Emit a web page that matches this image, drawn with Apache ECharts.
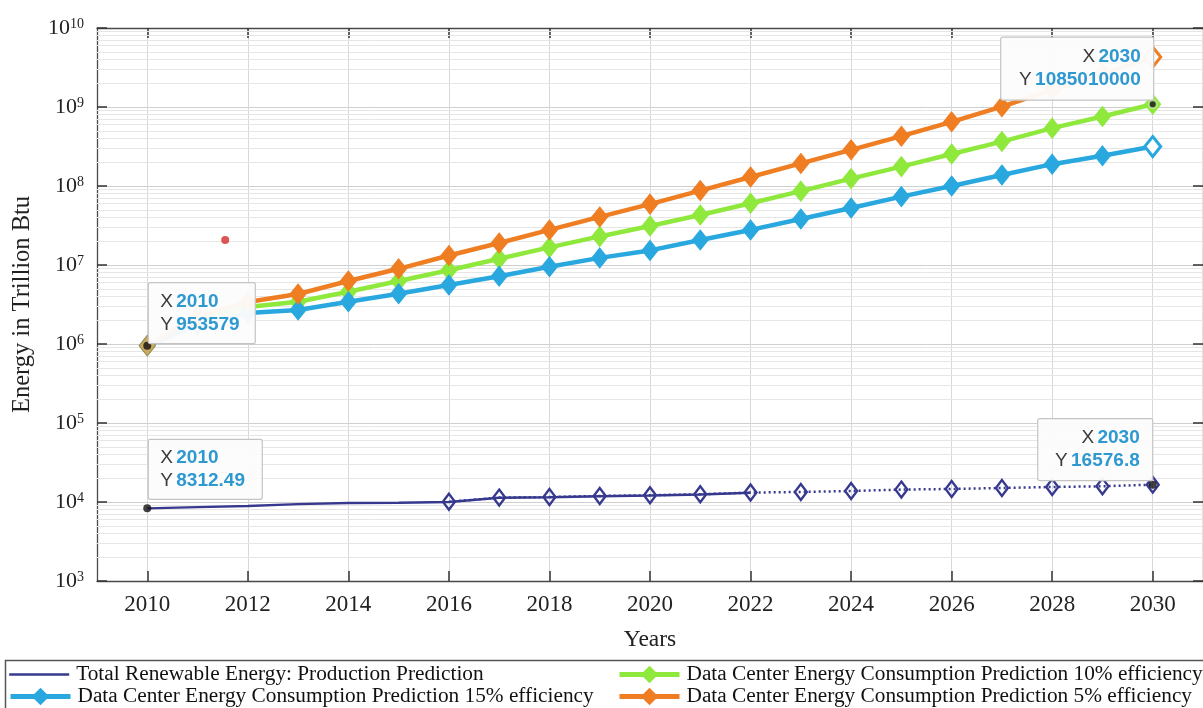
<!DOCTYPE html>
<html><head><meta charset="utf-8">
<script src="https://cdn.jsdelivr.net/npm/echarts@6/dist/echarts.min.js"></script>
<style>html,body{margin:0;padding:0;background:#fff}#c{width:1203px;height:708px}</style>
</head><body><div id="c"></div>
<script>
// ---------- DATA ----------
const years = [2010,2011,2012,2013,2014,2015,2016,2017,2018,2019,2020,2021,2022,2023,2024,2025,2026,2027,2028,2029,2030];
const dc15 = [953579,1.74e6,2.46e6,2.69e6,3.43e6,4.33e6,5.58e6,7.19e6,9.51e6,1.23e7,1.53e7,2.07e7,2.78e7,3.83e7,5.27e7,7.34e7,1.00e8,1.38e8,1.89e8,2.41e8,3.16e8];
const dc10 = [953579,2.01e6,2.94e6,3.43e6,4.59e6,6.27e6,8.57e6,1.20e7,1.67e7,2.30e7,3.12e7,4.30e7,6.05e7,8.61e7,1.24e8,1.76e8,2.54e8,3.65e8,5.40e8,7.58e8,1085010000];
const dc5  = [953579,2.26e6,3.40e6,4.29e6,6.27e6,8.95e6,1.32e7,1.90e7,2.78e7,4.06e7,5.90e7,8.74e7,1.30e8,1.93e8,2.87e8,4.27e8,6.49e8,1.01e9,1.65e9,2.64e9,4.29e9];
const renewHistYears = [2010,2011,2012,2013,2014,2015,2016,2017,2018,2019,2020,2021,2022];
const renewHist = [8312.49,8600,8900,9400,9700,9800,10000,11300,11500,11850,12100,12450,13100];
const renewPredYears = [2016,2017,2018,2019,2020,2021,2022,2023,2024,2025,2026,2027,2028,2029,2030];
const renewPred = [10050,11370,11560,11920,12170,12530,13160,13400,13780,14360,14620,15040,15490,15810,16576.8];
const outlier = [[2011.55, 2.07e7]];
const xTickYears = [2010,2012,2014,2016,2018,2020,2022,2024,2026,2028,2030];
const yDecades = [1e3,1e4,1e5,1e6,1e7,1e8,1e9,1e10];
const yMinorMult = [2,3,4,5,6,7,8,9];
const seriesNames = {
  renew: 'Total Renewable Energy: Production Prediction',
  dc10: 'Data Center Energy Consumption Prediction 10% efficiency',
  dc15: 'Data Center Energy Consumption Prediction 15% efficiency',
  dc5: 'Data Center Energy Consumption Prediction 5% efficiency'
};

// ---------- STYLE ----------
const SERIF = "'Liberation Serif','Times New Roman',serif";
const SANS = "'Liberation Sans',Arial,sans-serif";
const C_REN = '#37398F', C_G = '#8FE83C', C_B = '#29A8DF', C_O = '#EF7D22';

const zip = (xs, ys) => xs.map((x, i) => [x, ys[i]]);
const yMinor = [];
yDecades.slice(0, -1).forEach(d => yMinorMult.forEach(m => yMinor.push(d * m)));

function dcData(vals, color, firstColor) {
  return zip(years, vals).map((p, i) => {
    if (i === vals.length - 1 && color)
      return {value: p, itemStyle: {color: '#ffffff', borderColor: color, borderWidth: 3}};
    if (i === 0 && firstColor)
      return {value: p, itemStyle: {color: firstColor, borderColor: '#B08C48', borderWidth: 1}};
    return p;
  });
}

const chart = echarts.init(document.getElementById('c'));
const grid = {left: 97, top: 28, width: 1115, height: 553};
const axisLineStyle = {color: '#4a4a4a', width: 1.3};
const legendText = {fontFamily: SERIF, fontSize: 21.3, color: '#111', lineHeight: 18, padding: [0, 0, 0, 2]};
function legendAt(item, left, top) {
  return {data: [item], left: left, top: top, orient: 'horizontal', itemGap: 0,
    itemWidth: 60, itemHeight: 22, padding: 0, selectedMode: false, textStyle: legendText};
}

const option = {
  backgroundColor: '#ffffff',
  animation: false,
  grid: grid,
  xAxis: [
    {type: 'value', min: 2009, max: 2031, interval: 0.5, position: 'bottom',
     axisLine: {show: true, onZero: false, lineStyle: axisLineStyle},
     axisTick: {show: true, inside: true, length: 10, customValues: xTickYears, lineStyle: {color: '#333', width: 1.5}},
     axisLabel: {show: true, customValues: xTickYears, formatter: v => String(v), margin: 12, fontFamily: SERIF, fontSize: 23, color: '#222'},
     splitLine: {show: true, lineStyle: {color: '#d8d8d8', width: 1}},
     name: 'Years', nameLocation: 'middle', nameGap: 47,
     nameTextStyle: {fontFamily: SERIF, fontSize: 23.5, color: '#222'}},
    {type: 'value', min: 2009, max: 2031, interval: 0.5, position: 'top',
     axisLine: {show: true, onZero: false, lineStyle: axisLineStyle},
     axisTick: {show: true, inside: true, length: 10, customValues: xTickYears, lineStyle: {color: '#333', width: 1.5}},
     axisLabel: {show: false}, splitLine: {show: false}}
  ],
  yAxis: [
    {type: 'log', logBase: 10, min: 1e3, max: 1e10, splitNumber: 7, position: 'left',
     axisLine: {show: true, lineStyle: axisLineStyle},
     axisTick: {show: true, inside: true, length: 10, lineStyle: {color: '#333', width: 1.5}},
     axisLabel: {margin: 13, formatter: v => '{b|10}{s|' + Math.round(Math.log10(v)) + '}',
       rich: {b: {fontFamily: SERIF, fontSize: 22, color: '#222'},
              s: {fontFamily: SERIF, fontSize: 14, color: '#222', verticalAlign: 'top', padding: [0, 0, 8, 0]}}},
     splitLine: {show: true, lineStyle: {color: '#cfcfcf', width: 1}},
     name: 'Energy in Trillion Btu', nameLocation: 'middle', nameGap: 62, nameRotate: 90,
     nameTextStyle: {fontFamily: SERIF, fontSize: 24.5, color: '#222'}},
    {type: 'log', logBase: 10, min: 1e3, max: 1e10, splitNumber: 7, position: 'left',
     axisLine: {show: false},
     axisTick: {show: true, inside: true, length: 5, customValues: yMinor, lineStyle: {color: '#444', width: 1}},
     axisLabel: {show: false}, splitLine: {show: false}},
    {type: 'log', logBase: 10, min: 1e3, max: 1e10, splitNumber: 7, position: 'right',
     axisLine: {show: true, lineStyle: axisLineStyle},
     axisTick: {show: true, inside: true, length: 10, lineStyle: {color: '#333', width: 1.5}},
     axisLabel: {show: false}, splitLine: {show: false}}
  ],
  legend: [
    legendAt({name: seriesNames.renew, itemStyle: {opacity: 0}, lineStyle: {width: 2.4}}, 8, 664),
    legendAt({name: seriesNames.dc15, lineStyle: {width: 5}}, 8, 686),
    legendAt({name: seriesNames.dc10, lineStyle: {width: 5}}, 617, 664),
    legendAt({name: seriesNames.dc5, lineStyle: {width: 5}}, 617, 686)
  ],
  graphic: [
    {type: 'rect', left: 3, top: 658, shape: {width: 1230, height: 70},
     style: {fill: 'none', stroke: '#555', lineWidth: 1.5}, z: 100}
  ],
  series: [
    {type: 'line', name: '_minorgrid', data: [], silent: true, z: 1,
     markLine: {silent: true, symbol: 'none', z: 1, animation: false,
       label: {show: false}, lineStyle: {color: '#e6e6e6', width: 1, type: 'solid'},
       emphasis: {disabled: true},
       data: yMinor.map(v => ({yAxis: v}))}},
    {type: 'line', name: seriesNames.renew, data: zip(renewHistYears, renewHist), symbol: 'none',
     lineStyle: {color: C_REN, width: 2.4}, itemStyle: {color: C_REN}, z: 4},
    {type: 'line', name: '_renewPred', data: zip(renewPredYears, renewPred), symbol: 'diamond',
     symbolSize: [12, 16], showAllSymbol: true,
     lineStyle: {color: C_REN, width: 2.5, type: [2, 3]},
     itemStyle: {color: 'rgba(255,255,255,0)', borderColor: C_REN, borderWidth: 2.4}, z: 4},
    {type: 'line', name: seriesNames.dc10, data: dcData(dc10, null, null), symbol: 'diamond',
     symbolSize: [16, 20], showAllSymbol: true,
     lineStyle: {color: C_G, width: 4.5}, itemStyle: {color: C_G, borderColor: C_G}, z: 5},
    {type: 'line', name: seriesNames.dc15, data: dcData(dc15, C_B, null), symbol: 'diamond',
     symbolSize: [16, 20], showAllSymbol: true,
     lineStyle: {color: C_B, width: 4.5}, itemStyle: {color: C_B, borderColor: C_B}, z: 5},
    {type: 'line', name: seriesNames.dc5, data: dcData(dc5, C_O, '#CDAA63'), symbol: 'diamond',
     symbolSize: [16, 20], showAllSymbol: true,
     lineStyle: {color: C_O, width: 4.5}, itemStyle: {color: C_O, borderColor: C_O}, z: 6},
    {type: 'scatter', name: '_outlier', data: outlier, symbolSize: 8, itemStyle: {color: '#D42A2A'}, z: 7},
    {type: 'scatter', name: '_tips', symbolSize: 8, z: 8, itemStyle: {color: '#111'},
     data: [[years[0], dc15[0]], [renewHistYears[0], renewHist[0]],
            {value: [years[20], dc10[20]], itemStyle: {color: '#111', borderColor: '#c9f0a0', borderWidth: 2}},
            [renewPredYears[renewPredYears.length - 1], renewPred[renewPred.length - 1]]]}
  ]
};
chart.setOption(option);

// ---------- DATATIPS ----------
function px(x, y) { return chart.convertToPixel({xAxisIndex: 0, yAxisIndex: 0}, [x, y]); }
const tipRich = {
  l: {fontFamily: SANS, fontSize: 19, fill: '#3a3a3a'},
  v: {fontFamily: SANS, fontSize: 19, fill: '#2E98D1', fontWeight: 'bold'}
};
function tip(xv, yv, align, w, h, dx, dy) {
  const p = px(xv, yv);
  const left = align === 'left' ? p[0] + dx : p[0] + dx - w;
  const top = p[1] + dy - h;
  const tx = align === 'left' ? left + 12 : left + w - 13;
  return [
    {type: 'rect', x: left, y: top, shape: {width: w, height: h, r: 2}, z: 50,
     style: {fill: 'rgba(252,252,252,0.96)', stroke: '#c4c4c4', lineWidth: 1.2}},
    {type: 'text', x: tx, y: top + h / 2 - 11.5, z: 51,
     style: {text: '{l|X} {v|' + xv + '}', rich: tipRich, align: align, verticalAlign: 'middle'}},
    {type: 'text', x: tx, y: top + h / 2 + 11.5, z: 51,
     style: {text: '{l|Y} {v|' + yv + '}', rich: tipRich, align: align, verticalAlign: 'middle'}}
  ];
}
const g = [].concat(
  tip(years[0], dc15[0], 'left', 107, 61, 1, -2),
  tip(renewHistYears[0], renewHist[0], 'left', 114, 60, 1, -9),
  tip(years[20], dc10[20], 'right', 153, 63, 1, -4),
  tip(renewPredYears[renewPredYears.length - 1], renewPred[renewPred.length - 1], 'right', 115, 62, 0, -4)
);
chart.setOption({graphic: option.graphic.concat(g)});
</script></body></html>
